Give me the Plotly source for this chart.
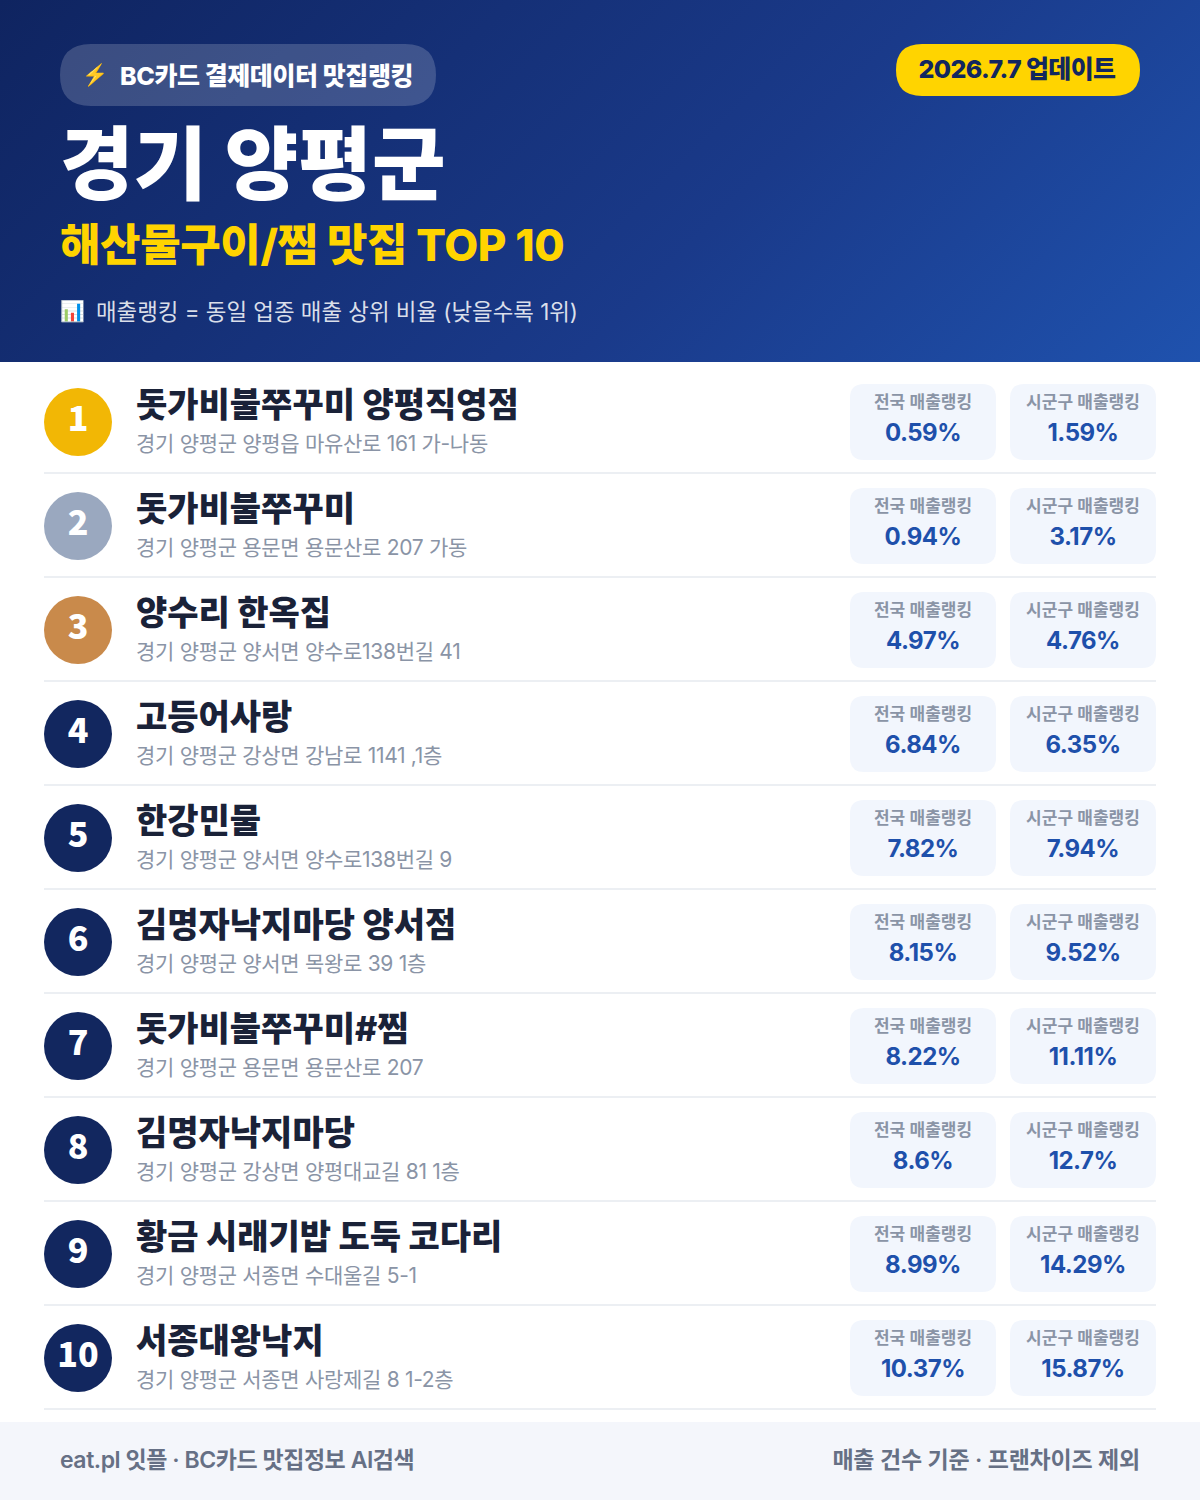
import base64
import plotly.graph_objects as go

ranks = ["1", "2", "3", "4", "5", "6", "7", "8", "9", "10"]
names = ["돗가비불쭈꾸미 양평직영점", "돗가비불쭈꾸미", "양수리 한옥집", "고등어사랑", "한강민물",
         "김명자낙지마당 양서점", "돗가비불쭈꾸미#찜", "김명자낙지마당", "황금 시래기밥 도둑 코다리", "서종대왕낙지"]
addresses = ["경기 양평군 양평읍 마유산로 161 가-나동", "경기 양평군 용문면 용문산로 207 가동",
             "경기 양평군 양서면 양수로138번길 41", "경기 양평군 강상면 강남로 1141 ,1층",
             "경기 양평군 양서면 양수로138번길 9", "경기 양평군 양서면 목왕로 39 1층",
             "경기 양평군 용문면 용문산로 207", "경기 양평군 강상면 양평대교길 81 1층",
             "경기 양평군 서종면 수대울길 5-1", "경기 양평군 서종면 사랑제길 8 1-2층"]
national = ["0.59%", "0.94%", "4.97%", "6.84%", "7.82%", "8.15%", "8.22%", "8.6%", "8.99%", "10.37%"]
local = ["1.59%", "3.17%", "4.76%", "6.35%", "7.94%", "9.52%", "11.11%", "12.7%", "14.29%", "15.87%"]
badge_colors = ["#f2b705", "#9aa8bf", "#c98a4b"] + ["#12275f"] * 7

KR = "Inter, Noto Sans CJK KR"
row_h = 104
row_y = [422 + row_h * i for i in range(len(ranks))]

# header background is a 135deg gradient, plotly shapes can't do that so use an svg image
grad_svg = ('<svg xmlns="http://www.w3.org/2000/svg" width="1200" height="362">'
            '<defs><linearGradient id="g" gradientUnits="userSpaceOnUse" x1="209.5" y1="-209.5" x2="990.5" y2="571.5">'
            '<stop offset="0" stop-color="#0f2460"/><stop offset="0.6" stop-color="#1a3a8a"/>'
            '<stop offset="1" stop-color="#1f52ae"/></linearGradient></defs>'
            '<rect width="1200" height="362" fill="url(#g)"/></svg>')
grad_src = "data:image/svg+xml;base64," + base64.b64encode(grad_svg.encode()).decode()

# plotly has no letter spacing option, meta on each trace is applied to its text after drawing
TRACKING_JS = """
var gd = document.querySelector('.plotly-graph-div');
var tr = gd.querySelectorAll('.scatterlayer .trace');
gd.data.forEach(function(d, i) {
  if (d.meta) tr[i].querySelectorAll('text').forEach(function(t) { t.style.letterSpacing = d.meta + 'px'; });
});
document.body.style.margin = '0';
"""


def rrect(x0, y0, x1, y1, r, fill):
    p = (f"M {x0+r} {y0} L {x1-r} {y0} Q {x1} {y0} {x1} {y0+r} L {x1} {y1-r} Q {x1} {y1} {x1-r} {y1} "
         f"L {x0+r} {y1} Q {x0} {y1} {x0} {y1-r} L {x0} {y0+r} Q {x0} {y0} {x0+r} {y0} Z")
    return dict(type="path", path=p, fillcolor=fill, line_width=0, layer="below")


def label(x, y, text, size, color, weight=400, pos="middle right", ls=0, family=KR):
    if not isinstance(x, list):
        x, y, text = [x], [y], [text]
    return go.Scatter(x=x, y=y, text=text, mode="text", textposition=pos, meta=ls,
                      textfont=dict(family=family, size=size, color=color, weight=weight),
                      hoverinfo="skip", showlegend=False)


fig = go.Figure()

shapes = [
    dict(type="rect", x0=0, x1=1200, y0=1422, y1=1500, fillcolor="#f4f6fb", line_width=0, layer="below"),
    rrect(60, 44, 436, 106, 31, "rgba(255,255,255,0.18)"),
    rrect(896, 44, 1140, 96, 26, "#ffd400"),
]
for y in row_y:
    shapes.append(dict(type="rect", x0=44, x1=1156, y0=y+50, y1=y+52, fillcolor="#eceff3", line_width=0, layer="below"))
    shapes.append(rrect(850, y-38, 996, y+38, 14, "#f2f6fd"))
    shapes.append(rrect(1010, y-38, 1156, y+38, 14, "#f2f6fd"))

# header text
fig.add_trace(label(82, 77, "⚡", 21, "#ffd400"))
fig.add_trace(label(120, 79, "BC카드 결제데이터 맛집랭킹", 25, "white", 800, ls=-0.4))
fig.add_trace(label(1017, 72, "2026.7.7 업데이트", 25, "#12275f", 800, "middle center", ls=-0.6))
fig.add_trace(label(60, 173, "경기 양평군", 80, "white", 800))
fig.add_trace(label(60, 250, "해산물구이/찜 맛집 TOP 10", 44, "#ffd400", 800, ls=-0.4))
fig.add_trace(label(60, 313, "📊", 20, "white"))
fig.add_trace(label(96, 314, "매출랭킹 = 동일 업종 매출 상위 비율 (낮을수록 1위)", 22.4, "rgba(255,255,255,0.85)"))

# rows
fig.add_trace(go.Scatter(x=[78] * len(ranks), y=row_y, mode="markers", hoverinfo="skip", showlegend=False,
                         marker=dict(size=68, color=badge_colors, line_width=0)))
fig.add_trace(label([78] * len(ranks), row_y, ranks, 34, "white", 800, "middle center",
                    family="Noto Sans CJK KR"))
fig.add_trace(label([136] * len(ranks), [y - 14 for y in row_y], names, 34, "#1a2238", 800))
fig.add_trace(label([136] * len(ranks), [y + 24 for y in row_y], addresses, 21, "#8a94a6", ls=-0.3))
fig.add_trace(label([923] * len(ranks), [y - 18 for y in row_y], ["전국 매출랭킹"] * len(ranks), 17, "#8a94a6", 600, "middle center"))
fig.add_trace(label([1083] * len(ranks), [y - 18 for y in row_y], ["시군구 매출랭킹"] * len(ranks), 17, "#8a94a6", 600, "middle center"))
fig.add_trace(label([923] * len(ranks), [y + 13 for y in row_y], national, 24, "#1e50ab", 700, "middle center", ls=-0.5))
fig.add_trace(label([1083] * len(ranks), [y + 13 for y in row_y], local, 24, "#1e50ab", 700, "middle center", ls=-0.5))

# footer
fig.add_trace(label(60, 1462, "eat.pl 잇플 · BC카드 맛집정보 AI검색", 23, "#667085", 600, ls=-0.45))
fig.add_trace(label(1140, 1462, "매출 건수 기준 · 프랜차이즈 제외", 23, "#667085", 600, "middle left", ls=-0.2))

fig.update_layout(width=1200, height=1500, margin=dict(l=0, r=0, t=0, b=0), paper_bgcolor="white",
                  plot_bgcolor="white", shapes=shapes, showlegend=False,
                  images=[dict(source=grad_src, xref="paper", yref="paper", x=0, y=1, sizex=1, sizey=362 / 1500,
                               sizing="stretch", xanchor="left", yanchor="top", layer="below")],
                  xaxis=dict(range=[0, 1200], visible=False, fixedrange=True),
                  yaxis=dict(range=[1500, 0], visible=False, fixedrange=True))
fig.write_html("out.html", config=dict(displayModeBar=False), post_script=TRACKING_JS)
